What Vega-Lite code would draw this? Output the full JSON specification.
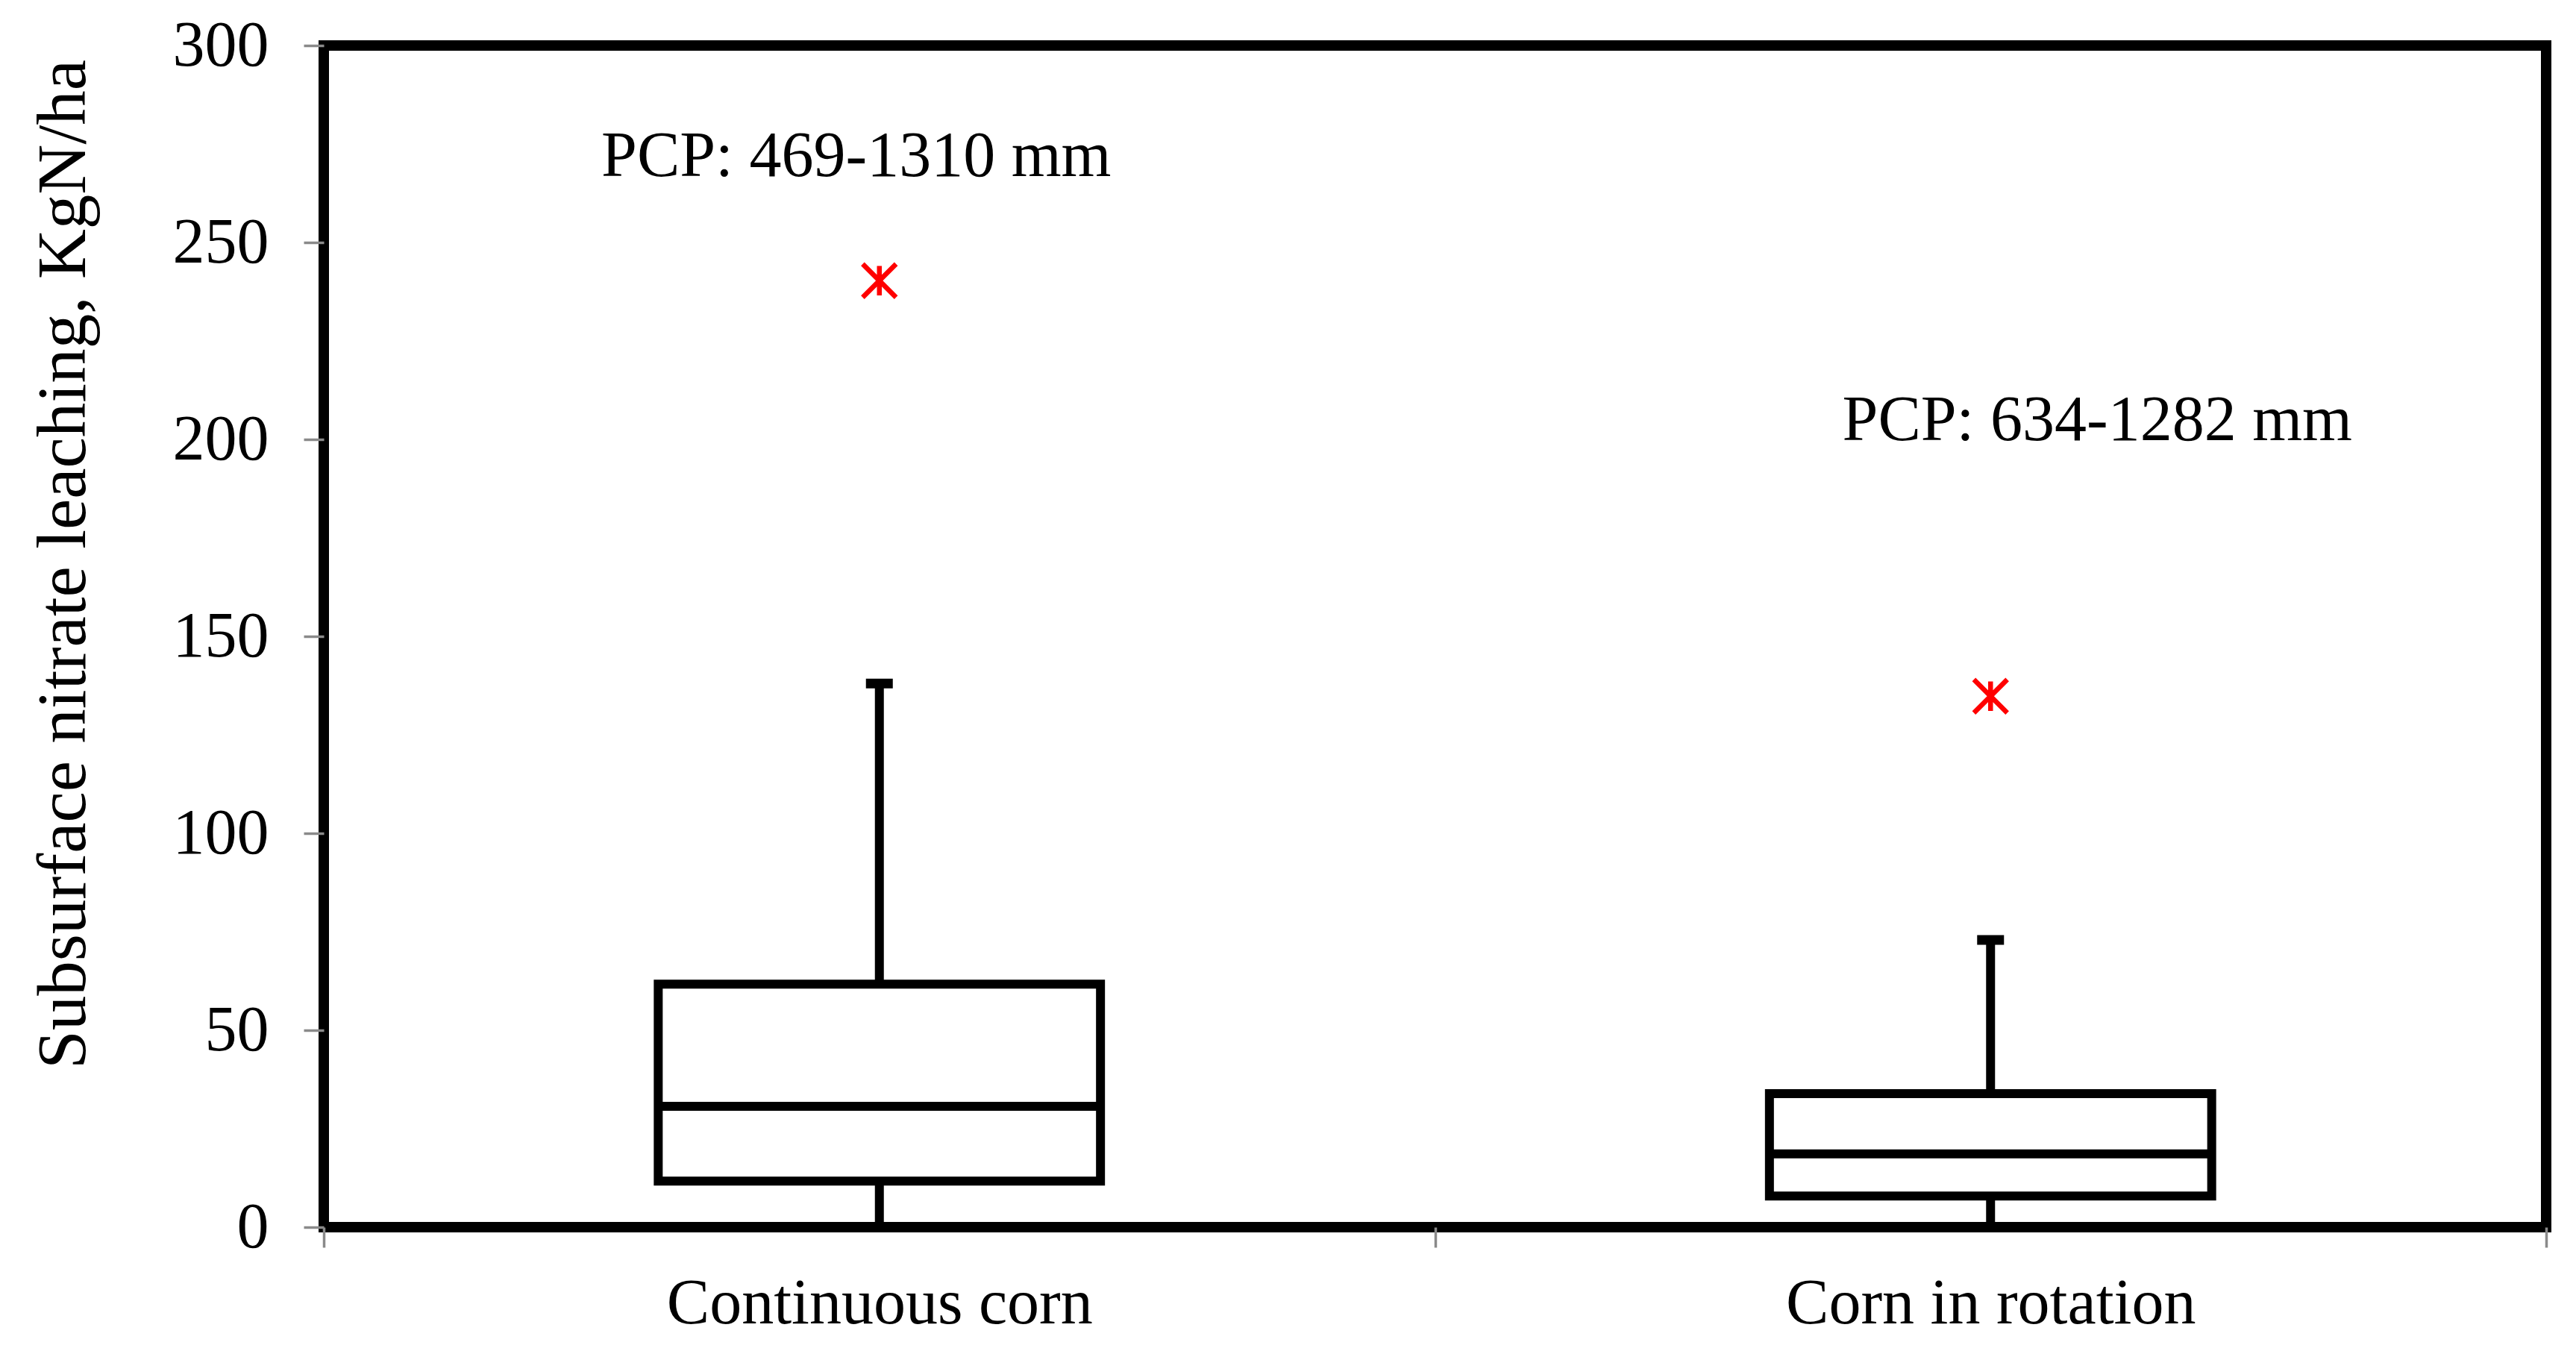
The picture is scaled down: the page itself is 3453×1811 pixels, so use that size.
{
  "$schema": "https://vega.github.io/schema/vega-lite/v6.json",
  "width": 2979,
  "height": 1584,
  "autosize": {"type": "none"},
  "padding": {"left": 434, "top": 61, "right": 40, "bottom": 166},
  "background": "white",
  "config": {
    "font": "Liberation Serif",
    "view": {"stroke": "black", "strokeWidth": 14, "fill": "white"},
    "axis": {
      "labelFont": "Liberation Serif",
      "titleFont": "Liberation Serif",
      "labelColor": "black",
      "titleColor": "black",
      "grid": false,
      "domain": false,
      "tickColor": "#8a8a8a",
      "tickWidth": 3.5,
      "tickSize": 27,
      "labelLimit": 0
    }
  },
  "datasets": {
    "boxes": [
      {"practice": "Continuous corn", "min": 0, "q1": 11.7, "median": 30.7, "q3": 61.7, "max": 138},
      {"practice": "Corn in rotation", "min": 0, "q1": 7.9, "median": 18.6, "q3": 33.9, "max": 72.9}
    ],
    "outliers": [
      {"practice": "Continuous corn", "value": 240.3},
      {"practice": "Corn in rotation", "value": 134.8}
    ],
    "notes": [
      {"practice": "Continuous corn", "value": 266.9, "label": "PCP: 469-1310 mm"},
      {"practice": "Corn in rotation", "value": 199.8, "label": "PCP: 634-1282 mm"}
    ]
  },
  "encoding": {
    "x": {
      "field": "practice",
      "type": "nominal",
      "sort": ["Continuous corn", "Corn in rotation"],
      "scale": {"type": "band", "paddingInner": 0, "paddingOuter": 0},
      "axis": {
        "title": null,
        "labelAngle": 0,
        "labelFontSize": 86,
        "labelPadding": 33,
        "labelLimit": 0,
        "tickBand": "extent"
      }
    }
  },
  "layer": [
    {
      "data": {"name": "boxes"},
      "mark": {"type": "rule", "color": "black", "strokeWidth": 12},
      "encoding": {
        "y": {
          "field": "min",
          "type": "quantitative",
          "scale": {"domain": [0, 300], "nice": false, "zero": true},
          "axis": {
            "values": [0, 50, 100, 150, 200, 250, 300],
            "labelFontSize": 86,
            "labelPadding": 47,
            "title": "Subsurface nitrate leaching, KgN/ha",
            "titleFontSize": 93,
            "titleFontWeight": "normal",
            "titleAngle": 270,
            "titleX": -321,
            "titleY": 695,
            "titleAlign": "center",
            "titleBaseline": "alphabetic"
          }
        },
        "y2": {"field": "q1"}
      }
    },
    {
      "data": {"name": "boxes"},
      "mark": {"type": "rule", "color": "black", "strokeWidth": 12},
      "encoding": {
        "y": {"field": "q3", "type": "quantitative"},
        "y2": {"field": "max"}
      }
    },
    {
      "data": {"name": "boxes"},
      "mark": {"type": "tick", "color": "black", "size": 36, "thickness": 13, "opacity": 1},
      "encoding": {
        "y": {"field": "max", "type": "quantitative"}
      }
    },
    {
      "data": {"name": "boxes"},
      "mark": {"type": "bar", "fill": "white", "stroke": "black", "strokeWidth": 12, "width": {"band": 0.398}},
      "encoding": {
        "y": {"field": "q1", "type": "quantitative"},
        "y2": {"field": "q3"}
      }
    },
    {
      "data": {"name": "boxes"},
      "mark": {"type": "tick", "color": "black", "size": 593, "thickness": 12, "opacity": 1},
      "encoding": {
        "y": {"field": "median", "type": "quantitative"}
      }
    },
    {
      "data": {"name": "outliers"},
      "mark": {
        "type": "point",
        "shape": "M-1,-1L1,1M-1,1L1,-1M0,-0.88L0,0.88",
        "size": 2000,
        "filled": false,
        "stroke": "#ff0000",
        "strokeWidth": 6.5,
        "opacity": 1
      },
      "encoding": {
        "y": {"field": "value", "type": "quantitative"}
      }
    },
    {
      "data": {"name": "notes"},
      "transform": [{"filter": "datum.practice == 'Continuous corn'"}],
      "mark": {"type": "text", "fontSize": 86, "font": "Liberation Serif", "color": "black", "align": "center", "baseline": "alphabetic", "dx": -31},
      "encoding": {
        "y": {"field": "value", "type": "quantitative"},
        "text": {"field": "label"}
      }
    },
    {
      "data": {"name": "notes"},
      "transform": [{"filter": "datum.practice == 'Corn in rotation'"}],
      "mark": {"type": "text", "fontSize": 86, "font": "Liberation Serif", "color": "black", "align": "center", "baseline": "alphabetic", "dx": 143},
      "encoding": {
        "y": {"field": "value", "type": "quantitative"},
        "text": {"field": "label"}
      }
    }
  ]
}
